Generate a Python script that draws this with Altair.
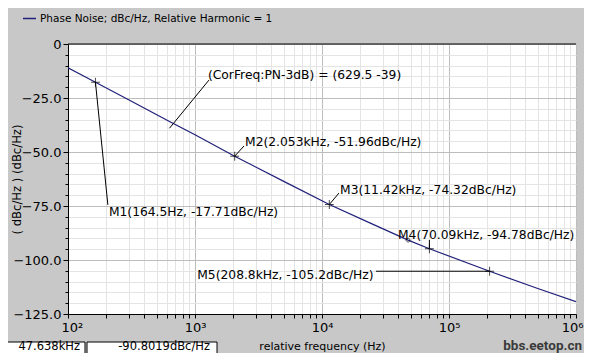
import altair as alt
import pandas as pd

# Phase-noise curve
freq = [100, 164.5, 300, 629.5, 1000, 2053, 5000, 11420, 25000, 47638, 70090, 208800, 500000, 1000000]
pn = [-11.0, -17.71, -25.8, -35.9, -42.0, -51.96, -63.6, -74.32, -83.4, -90.80, -94.78, -105.2, -113.2, -119.3]
series_name = "Phase Noise; dBc/Hz, Relative Harmonic = 1"

# Markers
mk_freq = [164.5, 2053, 11420, 70090, 208800]
mk_val = [-17.71, -51.96, -74.32, -94.78, -105.2]

# Annotation labels
lab_text = ["M1(164.5Hz, -17.71dBc/Hz)", "(CorFreq:PN-3dB) = (629.5 -39)", "M2(2.053kHz, -51.96dBc/Hz)",
            "M3(11.42kHz, -74.32dBc/Hz)", "M4(70.09kHz, -94.78dBc/Hz)"]
lab_freq = [210, 1265, 2477, 13870, 39630]
lab_val = [-78.0, -14.4, -45.4, -67.6, -88.4]
m5_text = ["M5(208.8kHz, -105.2dBc/Hz)"]
m5_freq = [25500]
m5_val = [-107.0]

# Pointer segments
seg_f1 = [164.5, 1288, 2053, 11420, 70090, 26600]
seg_v1 = [-17.71, -16.7, -51.96, -74.32, -94.78, -105.2]
seg_f2 = [206, 629.5, 2433, 13600, 70090, 208800]
seg_v2 = [-74.5, -39.0, -47.2, -69.0, -90.7, -105.2]

# Cursor
cur_freq = [47638]
cur_val = [-90.8019]
cur_texts = ["47.638kHz", "-90.8019dBc/Hz"]

x_ticks = [m * 10 ** e for e in range(2, 6) for m in range(1, 10)] + [1000000]
y_ticks = list(range(0, -130, -5))

FONT = "DejaVu Sans"
W, H = 508, 270

xscale = alt.Scale(type="log", domain=[100, 1000000], nice=False)
yscale = alt.Scale(domain=[-125, 0], nice=False)

curve_df = pd.DataFrame({"f": freq, "v": pn, "s": series_name})

x_axis = alt.Axis(
    values=x_ticks,
    labelExpr="datum.value==100?'10²':datum.value==1000?'10³':datum.value==10000?'10⁴':datum.value==100000?'10⁵':datum.value==1000000?'10⁶':''",
    labelOverlap=False, labelFlush=True, labelFlushOffset=7, labelFont=FONT, labelFontSize=13,
    labelColor="black", labelPadding=3,
    title="relative frequency (Hz)", titleFont=FONT, titleFontSize=11, titleFontWeight="normal",
    titleColor="black", titleY=32, titleBaseline="middle",
    grid=True,
    gridColor={"condition": {"test": "indexof([100,1000,10000,100000,1000000], datum.value) >= 0", "value": "#bdbdbd"}, "value": "#e4e4e4"},
    tickColor="black", tickSize=4, domainColor="black",
)
y_axis = alt.Axis(
    values=y_ticks,
    labelExpr="datum.value==0?'0':(abs(datum.value)%25==0?format(datum.value,'.1f'):'')",
    labelOverlap=False, labelFlush=False, labelFont=FONT, labelFontSize=13, labelColor="black",
    labelPadding=2,
    title="( dBc/Hz ) (dBc/Hz)", titleFont=FONT, titleFontSize=11.6, titleFontWeight="normal",
    titleColor="black", titleX=-51, titleY=135, titleAngle=-90, titleBaseline="middle", titleAlign="center",
    grid=True,
    gridColor={"condition": {"test": "abs(datum.value) % 25 == 0", "value": "#bdbdbd"}, "value": "#e4e4e4"},
    tickColor="black",
    tickSize={"condition": {"test": "abs(datum.value) % 25 == 0", "value": 5}, "value": 3},
    domainColor="black",
)


def X(field):
    return alt.X(field, scale=xscale, axis=x_axis)


def Y(field):
    return alt.Y(field, scale=yscale, axis=y_axis)


line = alt.Chart(curve_df).mark_line(strokeWidth=1.2, clip=True).encode(
    x=X("f:Q"),
    y=Y("v:Q"),
    color=alt.Color("s:N", scale=alt.Scale(range=["#20207a"]),
                    legend=alt.Legend(orient="none", legendX=-46, legendY=-33, title=None,
                                      symbolType="stroke", symbolSize=169, symbolStrokeWidth=1.5,
                                      labelFont=FONT, labelFontSize=10.5, labelColor="black",
                                      labelLimit=0, labelOffset=3, padding=0)),
)

top_df = pd.DataFrame({"f": [100], "f2": [1000000], "v": [0]})
top = alt.Chart(top_df).mark_rule(color="black", strokeWidth=1).encode(
    x=X("f:Q"), x2="f2:Q", y=Y("v:Q"))

seg_df = pd.DataFrame({"f1": seg_f1, "v1": seg_v1, "f2": seg_f2, "v2": seg_v2})
segs = alt.Chart(seg_df).mark_rule(color="black", strokeWidth=1).encode(
    x=X("f1:Q"), y=Y("v1:Q"), x2="f2:Q", y2="v2:Q")

mk_df = pd.DataFrame({"f": mk_freq, "v": mk_val})
marks = alt.Chart(mk_df).mark_point(shape="M-1,0L1,0M0,-1L0,1", size=80, color="black",
                                    strokeWidth=1, filled=False).encode(
    x=X("f:Q"), y=Y("v:Q"))

cur_df = pd.DataFrame({"f": cur_freq, "v": cur_val})
cursor = alt.Chart(cur_df).mark_point(shape="diamond", size=22, color="black",
                                      strokeWidth=1, filled=False).encode(
    x=X("f:Q"), y=Y("v:Q"))

lab_df = pd.DataFrame({"t": lab_text, "f": lab_freq, "v": lab_val})
labels = alt.Chart(lab_df).mark_text(align="left", baseline="middle", font=FONT, fontSize=12.3,
                                     color="black").encode(
    x=X("f:Q"), y=Y("v:Q"), text="t:N")

m5_df = pd.DataFrame({"t": m5_text, "f": m5_freq, "v": m5_val})
m5 = alt.Chart(m5_df).mark_text(align="right", baseline="middle", font=FONT, fontSize=12.3,
                                color="black").encode(
    x=X("f:Q"), y=Y("v:Q"), text="t:N")

# cursor readout boxes below the plot
box_df = pd.DataFrame({"i": [0, 1]})
box1 = alt.Chart(box_df.iloc[[0]]).mark_rect(fill="white", stroke="black", strokeWidth=1).encode(
    x=alt.value(-65), x2=alt.value(17), y=alt.value(298), y2=alt.value(330))
box2 = alt.Chart(box_df.iloc[[1]]).mark_rect(fill="white", stroke="black", strokeWidth=1).encode(
    x=alt.value(19), x2=alt.value(149), y=alt.value(298), y2=alt.value(330))
tdf1 = pd.DataFrame({"t": [cur_texts[0]]})
tdf2 = pd.DataFrame({"t": [cur_texts[1]]})
txt1 = alt.Chart(tdf1).mark_text(align="right", baseline="middle", font=FONT, fontSize=11.5,
                                 color="black").encode(x=alt.value(12), y=alt.value(303), text="t:N")
txt2 = alt.Chart(tdf2).mark_text(align="right", baseline="middle", font=FONT, fontSize=11.5,
                                 color="black").encode(x=alt.value(142), y=alt.value(303), text="t:N")
wm_df = pd.DataFrame({"t": ["bbs.eetop.cn"]})
wm = alt.Chart(wm_df).mark_text(align="right", baseline="middle", font="Roboto",
                                fontSize=13.5, fontWeight="bold", color="#3a3a3a").encode(
    x=alt.value(514), y=alt.value(302), text="t:N")

chart = alt.layer(line, top, segs, marks, cursor, labels, m5, box1, box2, txt1, txt2, wm).properties(
    width=W, height=H,
    background="#c8c8c8",
    padding={"left": 60, "top": 36, "right": 8, "bottom": 39},
    autosize=alt.AutoSizeParams(type="none"),
).configure_view(fill="white", stroke=None)

chart.save("out.html", embed_options={"renderer": "svg", "actions": False})
